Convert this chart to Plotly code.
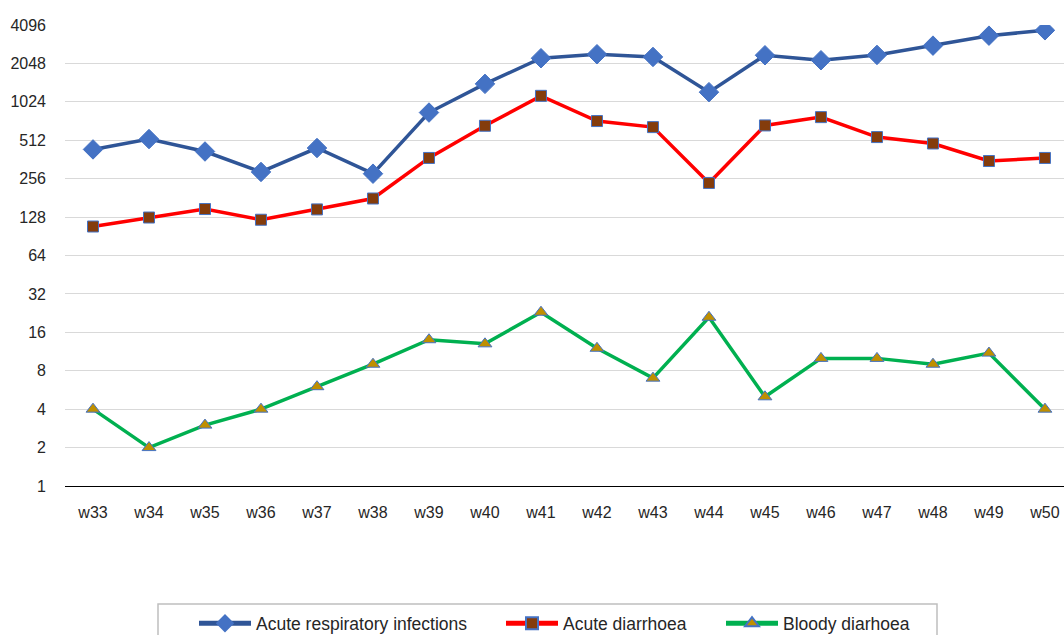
import plotly.graph_objects as go

weeks = ["w33", "w34", "w35", "w36", "w37", "w38", "w39", "w40", "w41",
         "w42", "w43", "w44", "w45", "w46", "w47", "w48", "w49", "w50"]
ari = [434, 523, 418, 289, 445, 280, 844, 1416, 2249,
       2417, 2302, 1219, 2373, 2169, 2388, 2823, 3379, 3723]
acute_diarrhoea = [108, 127, 148, 122, 147, 179, 372, 665, 1141,
                   724, 649, 237, 669, 777, 542, 483, 352, 372]
bloody_diarrhoea = [4, 2, 3, 4, 6, 9, 14, 13, 23, 12, 7, 21, 5, 10, 10, 9, 11, 4]
y_ticks = [1, 2, 4, 8, 16, 32, 64, 128, 256, 512, 1024, 2048, 4096]

FONT = "Liberation Sans, Arial, sans-serif"
PLOT_L, PLOT_W = 65, 999

fig = go.Figure()
fig.add_trace(go.Scatter(
    x=weeks, y=ari, name="Acute respiratory infections", mode="lines+markers",
    line=dict(color="#2F5597", width=3.5),
    marker=dict(symbol="diamond", size=15, color="#4472C4",
                line=dict(color="#4472C4", width=1)),
    legend="legend",
))
fig.add_trace(go.Scatter(
    x=weeks, y=acute_diarrhoea, name="Acute diarrhoea", mode="lines+markers",
    line=dict(color="#FF0000", width=3.5),
    marker=dict(symbol="square", size=11, color="#843C0C",
                line=dict(color="#4472C4", width=1)),
    legend="legend2",
))
fig.add_trace(go.Scatter(
    x=weeks, y=bloody_diarrhoea, name="Bloody diarhoea", mode="lines+markers",
    line=dict(color="#00B050", width=3.5),
    marker=dict(symbol="triangle-up", size=12, color="#BF8F00",
                line=dict(color="#4472C4", width=1)),
    legend="legend3",
))


def legend_at(px_left):
    return dict(
        orientation="h", x=(px_left - PLOT_L) / PLOT_W, xanchor="left",
        y=-0.298, yanchor="middle",
        font=dict(family=FONT, size=17.5, color="#262626"),
        bgcolor="rgba(0,0,0,0)", borderwidth=0, itemwidth=52, itemsizing="constant",
    )


fig.update_layout(
    width=1064, height=635,
    margin=dict(l=PLOT_L, r=0, t=25, b=149, autoexpand=False),
    paper_bgcolor="white", plot_bgcolor="white",
    font=dict(family=FONT, size=16, color="#262626"),
    showlegend=True,
    legend=legend_at(194),
    legend2=legend_at(501),
    legend3=legend_at(721),
    shapes=[dict(type="rect", xref="paper", yref="paper",
                 x0=(158 - PLOT_L) / PLOT_W, x1=(937 - PLOT_L) / PLOT_W,
                 y0=-0.5, y1=-(604 - 486) / 461,
                 line=dict(color="#BFBFBF", width=1.5), fillcolor="rgba(0,0,0,0)",
                 layer="below")],
)
fig.update_xaxes(
    type="category", range=[-0.5, 17.34], showgrid=False,
    showline=True, linecolor="black", linewidth=1.3,
    ticks="", ticklabelstandoff=12, tickfont=dict(size=16, family=FONT),
)
fig.update_yaxes(
    type="log", range=[0, 3.61236], tickvals=y_ticks, ticktext=[str(v) for v in y_ticks],
    showgrid=True, gridcolor="#D9D9D9", gridwidth=1.3, zeroline=False, showline=False,
    ticks="", ticklabelstandoff=18, tickfont=dict(size=16, family=FONT),
)

fig.write_html("out.html", config={"displayModeBar": False},
               post_script="document.body.style.margin='0';document.body.style.overflow='hidden';")
